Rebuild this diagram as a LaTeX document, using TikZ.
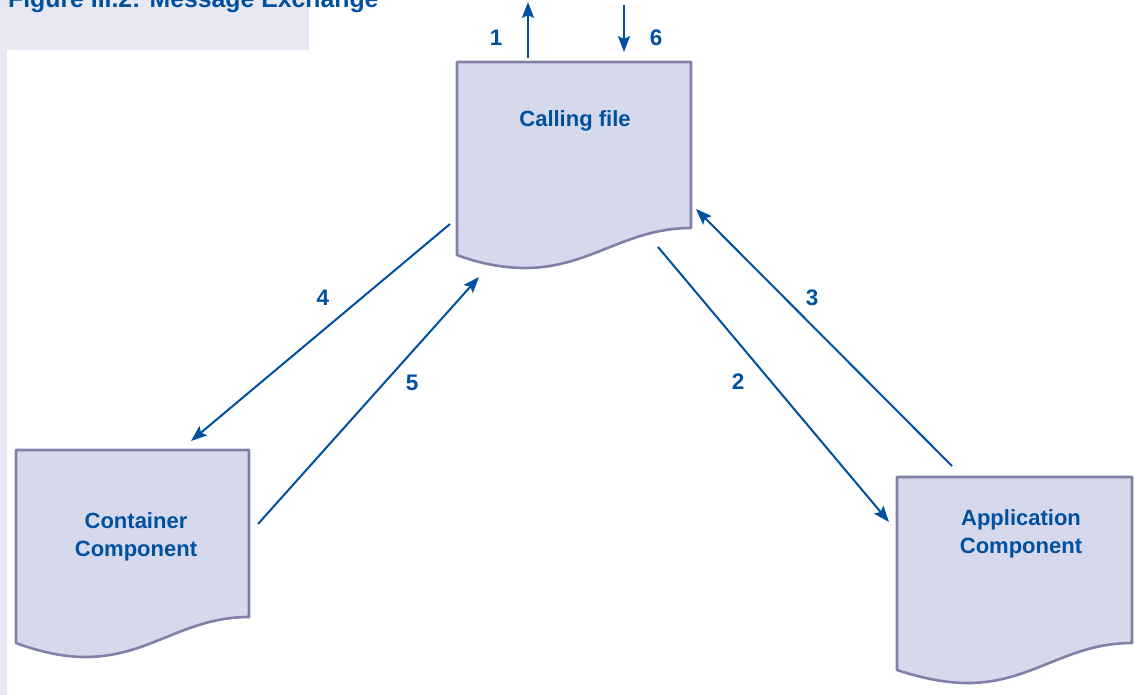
\documentclass[tikz,border=0pt]{standalone}
\usepackage{fontspec}
\setmainfont{Liberation Sans}
\usetikzlibrary{arrows.meta}
\definecolor{txtblue}{RGB}{0,80,160}
\definecolor{boxfill}{RGB}{214,216,236}
\definecolor{boxline}{RGB}{128,128,168}
\definecolor{bglav}{RGB}{232,232,244}
\tikzset{
  doc/.style={fill=boxfill,draw=boxline,line width=2.6pt,line join=round},
  lbl/.style={text=txtblue,font=\fontsize{22}{26}\selectfont\bfseries,align=center,inner sep=0pt},
  num/.style={text=txtblue,font=\fontsize{22.5}{26}\selectfont\bfseries,inner sep=0pt},
  msg/.style={draw=txtblue,line width=2pt,-{Stealth[length=16pt,width=12pt,inset=3pt]}}
}
\begin{document}
\begin{tikzpicture}[x=1pt,y=-1pt]
\useasboundingbox (0,0) rectangle (1134,695);
\clip (0,0) rectangle (1134,695);
\fill[white] (0,0) rectangle (1134,695);
\fill[bglav] (0,0) rectangle (309,50);
\fill[bglav] (0,0) rectangle (7,695);
\node[num,font=\fontsize{24.8}{28}\selectfont\bfseries,anchor=base west] (title) at (8,8) {Figure III.2: Message Exchange};
% Calling file
\draw[doc] (457,62) -- (691,62) -- (691,228)
  .. controls (625,228) and (590,268) .. (525,268)
  .. controls (500,268) and (475,262) .. (457,255) -- cycle;
\node[lbl] (call) at (575,121) {Calling file};
% Container component
\draw[doc] (16,450) -- (249,450) -- (249,617)
  .. controls (183,617) and (150,657) .. (85,657)
  .. controls (60,657) and (35,650) .. (16,643) -- cycle;
\node[lbl] (cont) at (136,537) {Container\\[2pt]Component};
% Application component
\draw[doc] (897,477) -- (1132,477) -- (1132,643)
  .. controls (1066,643) and (1032,683) .. (968,683)
  .. controls (943,683) and (918,677) .. (897,670) -- cycle;
\node[lbl] (app) at (1021,534) {Application\\[2pt]Component};
% connector endpoints
\coordinate (s1) at (528,58); \coordinate (e1) at (528,2);
\coordinate (s6) at (624,5);  \coordinate (e6) at (624,52);
\coordinate (s4) at (450,224); \coordinate (e4) at (191,441);
\coordinate (s5) at (258,524); \coordinate (e5) at (479,277);
\coordinate (s2) at (658,247); \coordinate (e2) at (889,522);
\coordinate (s3) at (952,466); \coordinate (e3) at (696,209);
\draw[msg] (s1) -- (e1);
\draw[msg] (s6) -- (e6);
\draw[msg] (s4) -- (e4);
\draw[msg] (s5) -- (e5);
\draw[msg] (s2) -- (e2);
\draw[msg] (s3) -- (e3);
\node[num] (n1) at (496,38) {1};
\node[num] (n6) at (656,38) {6};
\node[num] (n4) at (323,298) {4};
\node[num] (n5) at (412,383) {5};
\node[num] (n2) at (738,382) {2};
\node[num] (n3) at (812,298) {3};
\end{tikzpicture}
\end{document}
